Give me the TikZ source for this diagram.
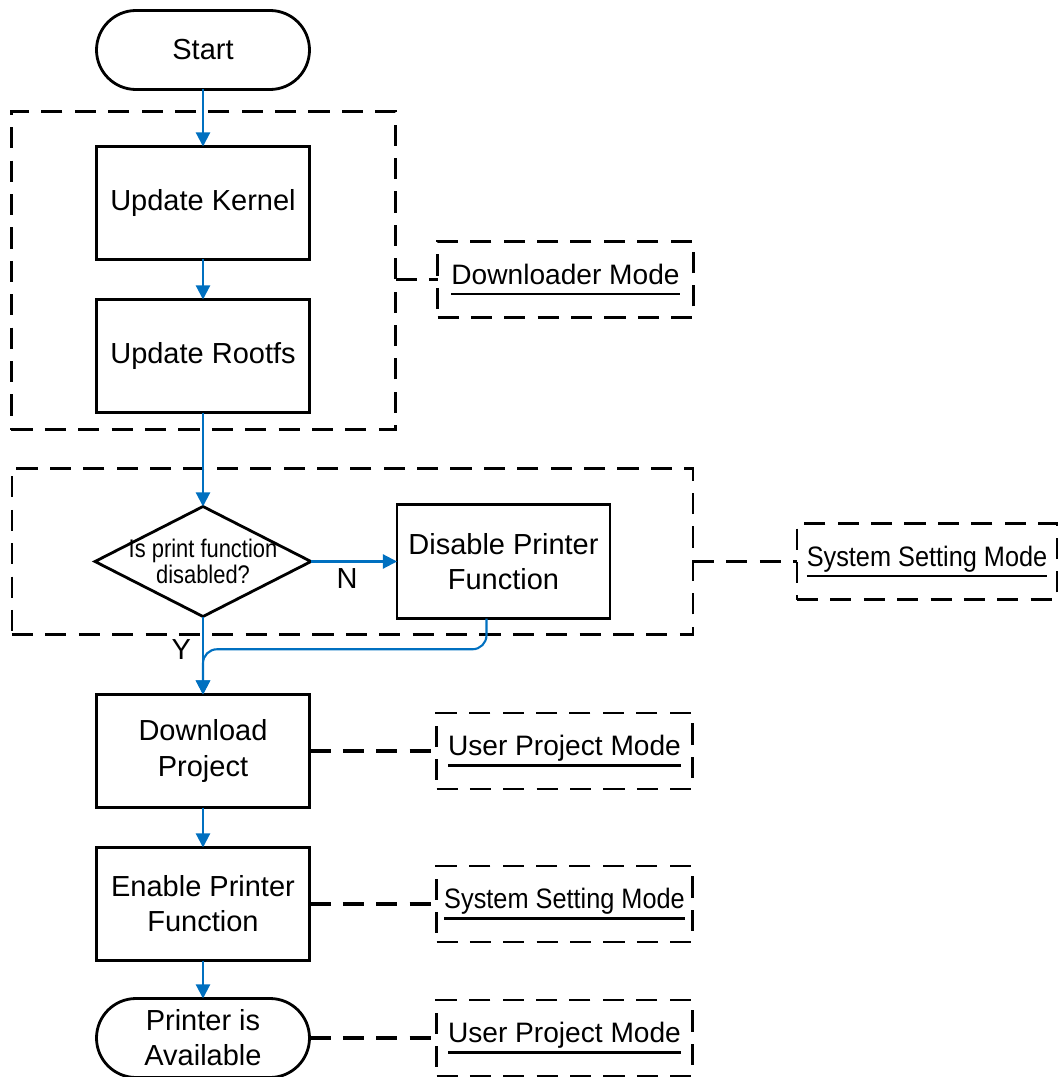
\documentclass[tikz,border=0pt]{standalone}
\usepackage{fontspec}
\setmainfont{Liberation Sans}
\newfontfamily\narrowfont[FakeStretch=0.86]{Liberation Sans}
\newfontfamily\modenarrow[FakeStretch=0.9]{Liberation Sans}
\usepackage{tikz}
\usetikzlibrary{shapes.geometric, positioning, arrows.meta, calc, fit}
\definecolor{flowblue}{RGB}{0,112,192}
\newcommand{\modeul}[1]{\setbox0\hbox{#1\vrule width 0pt depth 3.5pt}\vtop{\copy0\kern1.5pt\hrule height 1.4pt width\wd0}}

\tikzset{
  process/.style={draw, line width=1.6pt, outer sep=0pt, minimum width=4.26cm, minimum height=2.26cm, align=center, font=\fontsize{16.5}{20}\selectfont},
  terminal/.style={process, rounded corners=0.79cm, minimum height=1.58cm},
  decision/.style={draw, diamond, line width=1.6pt, outer sep=0pt, minimum width=4.32cm, minimum height=2.2cm, inner sep=0pt},
  grpbox/.style={draw, line width=1.6pt, dash pattern=on 12pt off 7pt, inner sep=0pt, outer sep=0pt},
  modebox/.style={grpbox, minimum width=5.12cm, minimum height=1.52cm, font=\fontsize{16}{19}\selectfont},
  modelink/.style={line width=1.8pt, dash pattern=on 12pt off 7pt},
  flow/.style={->, draw=flowblue, line width=1.2pt},
}

\begin{document}
\begin{tikzpicture}[>={Triangle[length=8pt,width=8pt]}, node distance=0.8cm]
  \useasboundingbox (-4.06,1.0) rectangle (17.16,-20.54);

  % main column
  \node[terminal] (start) {Start};
  \node[process] (kernel) [below=1.14cm of start] {Update Kernel};
  \node[process] (rootfs) [below=of kernel] {Update Rootfs};
  \node[decision, label={[font=\narrowfont\fontsize{14.5}{14.5}\selectfont, align=center]center:Is print function\\disabled?}] (check) [below=1.88cm of rootfs] {};
  \node[process, minimum height=2.28cm] (disable) [right=1.72cm of check] {Disable Printer\\Function};
  \node[process] (download) [below=1.56cm of check] {Download\\Project};
  \node[process] (enable) [below=of download] {Enable Printer\\Function};
  \node[terminal] (avail) [below=0.76cm of enable] {Printer is\\Available};

  % mode groups
  \node[grpbox, fit={($(kernel.north west)+(-1.7,0.7)$) ($(rootfs.south east)+(1.72,-0.34)$)}] (grp1) {};
  \node[grpbox, fit={($(check.west |- disable.north)+(-1.66,0.72)$) ($(disable.south east)+(1.66,-0.32)$)}] (grp2) {};

  \node[modebox, anchor=west] (dlmode) at ($(kernel.south east)!0.5!(rootfs.north east)+(2.56,0)$) {\modeul{Downloader Mode}};
  \node[modebox, anchor=west, minimum width=5.2cm] (sysmode1) at ($(grp2.east |- disable.east)+(2.08,0)$) {\modeul{\modenarrow System Setting Mode}};
  \node[modebox] (userp1) [right=2.54cm of download] {\modeul{User Project Mode}};
  \node[modebox] (sysmode2) [right=2.54cm of enable] {\modeul{\modenarrow System Setting Mode}};
  \node[modebox] (userp2) [right=2.54cm of avail] {\modeul{User Project Mode}};

  % mode links
  \draw[modelink] (dlmode.west -| grp1.east) -- (dlmode.west);
  \draw[modelink] (sysmode1.west -| grp2.east) -- (sysmode1.west);
  \draw[modelink] (download) -- (userp1);
  \draw[modelink] (enable) -- (sysmode2);
  \draw[modelink] (avail) -- (userp2);

  % flow
  \draw[flow] (start) -- (kernel);
  \draw[flow] (kernel) -- (rootfs);
  \draw[flow] (rootfs) -- (check);
  \draw[flow] (check) -- node[below, xshift=-0.14cm, font=\fontsize{16.5}{20}\selectfont] {N} (disable);
  \draw[flow] (check) -- node[pos=0.42, left, xshift=-0.1cm, font=\fontsize{16.5}{20}\selectfont] {Y} (download);
  \draw[flow, rounded corners=0.28cm] ([xshift=-0.34cm]disable.south) |- ($(check.south)!0.42!(download.north)$) -- (download.north);
  \draw[flow] (download) -- (enable);
  \draw[flow] (enable) -- (avail);
\end{tikzpicture}
\end{document}
